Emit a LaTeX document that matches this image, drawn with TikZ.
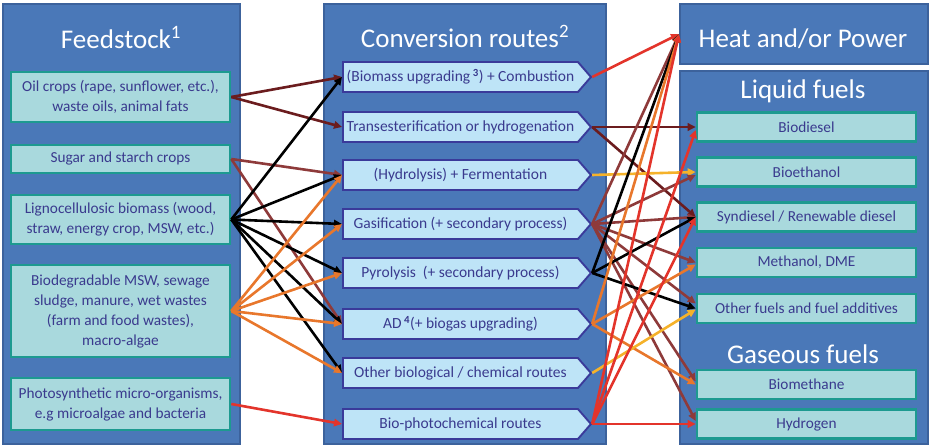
\documentclass[tikz,border=0pt]{standalone}
\usepackage{fontspec}
\setmainfont{Carlito}
\usetikzlibrary{shapes.symbols,arrows.meta}
\definecolor{panelblue}{HTML}{4A78B8}
\definecolor{paneledge}{HTML}{3C629C}
\definecolor{boxfill}{HTML}{A9D9DD}
\definecolor{boxedge}{HTML}{1D9A90}
\definecolor{routefill}{HTML}{BEE4F7}
\definecolor{routeedge}{HTML}{3A3A9A}
\definecolor{textblue}{HTML}{3A3A8E}
\definecolor{cdbrown}{HTML}{6B1C1E}
\definecolor{cbrown}{HTML}{8E3A3A}
\definecolor{corange}{HTML}{E8772C}
\definecolor{cred}{HTML}{E3342B}
\definecolor{cyellow}{HTML}{F5B22A}
\begin{document}
\begin{tikzpicture}[x=1pt,y=-1pt,
  panel/.style={draw=paneledge,fill=panelblue,line width=2.2pt,inner sep=0pt,anchor=north west},
  paneltitle/.style={text=white,font=\fontsize{27}{30}\selectfont,inner sep=0pt,anchor=base},
  feedbox/.style={draw=boxedge,fill=boxfill,line width=2.6pt,text=textblue,minimum width=219pt,align=center,font=\fontsize{15.3}{20}\selectfont,inner sep=0pt},
  prodbox/.style={draw=boxedge,fill=boxfill,line width=2.6pt,text=textblue,minimum width=219pt,minimum height=29pt,align=center,font=\fontsize{15.3}{18}\selectfont,inner sep=0pt},
  routebox/.style={shape=signal,signal to=east,signal pointer angle=98,draw=routeedge,fill=routefill,line width=1.9pt,text=textblue,minimum width=248pt,minimum height=30pt,font=\fontsize{15.5}{18}\selectfont,inner sep=0pt,anchor=west},
  flow/.style={line width=2.6pt,-{Triangle[length=8pt,width=7.5pt]}}
]
\useasboundingbox (0,0) rectangle (929,447);
% panels
\node[panel,minimum width=237pt,minimum height=440pt] (pfeed) at (2,3) {};
\node[panel,minimum width=282pt,minimum height=440pt] (proute) at (323,3) {};
\node[panel,minimum width=248pt,minimum height=60pt] (heat) at (679,3) {};
\node[panel,minimum width=248pt,minimum height=373pt] (pliq) at (679,70) {};
% titles
\node[paneltitle] (tfeed) at (121,48) {Feedstock\textsuperscript{1}};
\node[paneltitle] (troute) at (465,47) {Conversion routes\textsuperscript{2}};
\node[paneltitle] (theat) at (803,47) {Heat and/or Power};
\node[paneltitle] (tliq) at (803,98) {Liquid fuels};
\node[paneltitle] (tgas) at (803,363) {Gaseous fuels};
% feedstock boxes
\node[feedbox,minimum height=50pt] (oil) at (120.5,97) {Oil crops (rape, sunflower, etc.),\\waste oils, animal fats};
\node[feedbox,minimum height=28pt] (sugar) at (120.5,159) {Sugar and starch crops};
\node[feedbox,minimum height=49pt] (ligno) at (120.5,219.5) {Lignocellulosic biomass (wood,\\straw, energy crop, MSW, etc.)};
\node[feedbox,minimum height=92pt] (biodeg) at (120.5,311) {Biodegradable MSW, sewage\\sludge, manure, wet wastes\\(farm and food wastes),\\macro-algae};
\node[feedbox,minimum height=52pt] (photo) at (120.5,404) {Photosynthetic micro-organisms,\\e.g microalgae and bacteria};
% conversion routes
\node[routebox] (r1) at (342,77) {(Biomass upgrading\,\textsuperscript{\textbf{3}}) + Combustion};
\node[routebox] (r2) at (342,127) {Transesterification or hydrogenation};
\node[routebox] (r3) at (342,175) {(Hydrolysis) + Fermentation};
\node[routebox] (r4) at (342,224) {Gasification (+ secondary process)};
\node[routebox] (r5) at (342,273) {Pyrolysis\ \ (+ secondary process)};
\node[routebox] (r6) at (342,324) {AD\,\textsuperscript{\textbf{4}}(+ biogas upgrading)};
\node[routebox] (r7) at (342,373) {Other biological / chemical routes};
\node[routebox] (r8) at (342,424) {Bio-photochemical routes};
% products
\node[prodbox] (bd) at (806.5,127) {Biodiesel};
\node[prodbox] (beth) at (806.5,172) {Bioethanol};
\node[prodbox] (syn) at (806.5,217) {Syndiesel / Renewable diesel};
\node[prodbox] (meth) at (806.5,262.5) {Methanol, DME};
\node[prodbox] (oth) at (806.5,308.5) {Other fuels and fuel additives};
\node[prodbox] (bm) at (806.5,384.5) {Biomethane};
\node[prodbox] (h2) at (806.5,424) {Hydrogen};
% feedstock -> routes
\draw[flow,cdbrown] (oil.east) -- (r1.west);
\draw[flow,cdbrown] (oil.east) -- (r2.west);
\draw[flow,cbrown] (sugar.east) -- (r3.west);
\draw[flow,cbrown] (sugar.east) -- (r6.west);
\foreach \r in {r1,r3,r4,r5,r6,r7} \draw[flow,black] (ligno.east) -- (\r.west);
\foreach \r in {r3,r4,r5,r6,r7} \draw[flow,corange] (biodeg.east) -- (\r.west);
\draw[flow,cred] (photo.east) -- (r8.west);
% routes -> products
\draw[flow,cred] (r1.east) -- (heat.west);
\draw[flow,cdbrown] (r2.east) -- (bd.west);
\draw[flow,cdbrown] (r2.east) -- (syn.west);
\draw[flow,cyellow] (r3.east) -- (beth.west);
\draw[flow,cbrown] (r4.east) -- (heat.west);
\draw[flow,cbrown] (r4.east) -- ([yshift=-3pt]beth.west);
\draw[flow,cbrown] (r4.east) -- (syn.west);
\draw[flow,cbrown] (r4.east) -- (meth.west);
\draw[flow,cbrown] (r4.east) -- ([yshift=5pt]oth.west);
\draw[flow,cbrown] (r4.east) -- ([yshift=3pt]bm.west);
\draw[flow,cbrown] (r4.east) -- ([yshift=3pt]h2.west);
\draw[flow,black] (r5.east) -- (heat.west);
\draw[flow,black] (r5.east) -- (syn.west);
\draw[flow,black] (r5.east) -- (oth.west);
\draw[flow,corange] (r6.east) -- (heat.west);
\draw[flow,corange] (r6.east) -- ([yshift=-2pt]meth.west);
\draw[flow,corange] (r6.east) -- (bm.west);
\draw[flow,cyellow] (r7.east) -- ([yshift=-1pt]oth.west);
\draw[flow,cred] (r8.east) -- (heat.west);
\draw[flow,cred] (r8.east) -- ([yshift=-3pt]bd.west);
\draw[flow,cred] (r8.east) -- (syn.west);
\draw[flow,cred] (r8.east) -- (h2.west);
\end{tikzpicture}
\end{document}
